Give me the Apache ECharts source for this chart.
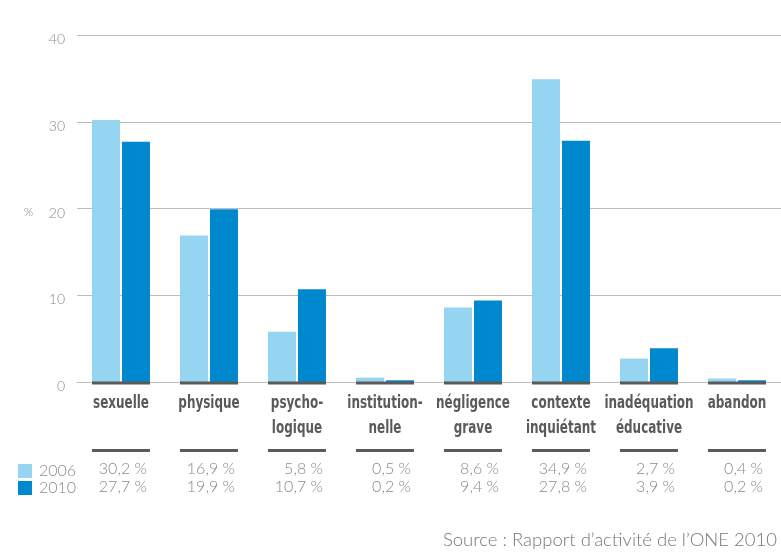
<!DOCTYPE html>
<html>
<head>
<meta charset="utf-8">
<script src="https://cdn.jsdelivr.net/npm/echarts@6/dist/echarts.min.js"></script>
<style>
  html, body { margin: 0; padding: 0; background: #fff; }
  #chart { width: 781px; height: 553px; }
</style>
</head>
<body>
<div id="chart"></div>
<script>
// données
const categories = ['sexuelle', 'physique', 'psycho-\nlogique', 'institution-\nnelle',
  'négligence\ngrave', 'contexte\ninquiétant', 'inadéquation\néducative', 'abandon'];
const years = ['2006', '2010'];
const values2006 = [30.2, 16.9, 5.8, 0.5, 8.6, 34.9, 2.7, 0.4];
const values2010 = [27.7, 19.9, 10.7, 0.2, 9.4, 27.8, 3.9, 0.2];
const yTicks = [0, 10, 20, 30, 40];

const light = 'Lato';
const grey = '#8a8a8a';
const dark = '#5a5a5a';
const fmt = v => v.toFixed(1).replace('.', ',') + ' %';

const chart = echarts.init(document.getElementById('chart'));

const option = {
  animation: false,
  grid: { left: 77, right: 0, top: 35, bottom: 171, containLabel: false },
  legend: {
    orient: 'vertical', left: 18, top: 463, padding: 0,
    itemWidth: 14, itemHeight: 14, itemGap: 1, icon: 'rect',
    data: years,
    textStyle: { fontFamily: light, fontWeight: 300, fontSize: 16, color: grey,
      lineHeight: 16, padding: [0, 0, 0, 2] }
  },
  xAxis: {
    type: 'category', data: categories,
    axisLine: { lineStyle: { color: '#bdbdbd', width: 1 } },
    axisTick: { show: false },
    // les libellés sont dessinés (condensés) par la série custom
    axisLabel: { show: false }
  },
  yAxis: {
    type: 'value', min: yTicks[0], max: yTicks[yTicks.length - 1], interval: 10,
    name: '%', nameLocation: 'middle', nameRotate: 0, nameGap: 44,
    nameTextStyle: { fontFamily: light, fontWeight: 300, fontSize: 12, color: grey,
      verticalAlign: 'top', lineHeight: 8 },
    axisLine: { show: false }, axisTick: { show: false },
    axisLabel: { margin: 12, fontFamily: light, fontWeight: 300, fontSize: 14, color: grey,
      verticalAlign: 'top', lineHeight: 9 },
    splitLine: { lineStyle: { color: '#bdbdbd', width: 1 } }
  },
  series: [
    { name: years[0], type: 'bar', data: values2006, barWidth: 28, barGap: '7%',
      itemStyle: { color: '#95d5f1' } },
    { name: years[1], type: 'bar', data: values2010, barWidth: 28,
      itemStyle: { color: '#0088cf' } },
    {
      // libellés, traits gris foncés et tableau des valeurs sous chaque catégorie
      type: 'custom', silent: true, clip: false, z: 5,
      data: categories.map((c, i) => [i, 0]),
      renderItem: function (params, api) {
        const i = api.value(0);
        const p = api.coord([i, 0]);
        const half = 29;
        return {
          type: 'group',
          children: [
            { type: 'rect', shape: { x: p[0] - half, y: p[1] - 0.5, width: half * 2, height: 3 },
              style: { fill: dark } },
            { type: 'text', x: p[0], y: p[1] + 9, scaleX: 0.74,
              style: { text: categories[i], align: 'center', verticalAlign: 'top',
                font: 'bold 18px "DejaVu Sans Condensed"', lineHeight: 25, fill: dark } },
            { type: 'rect', shape: { x: p[0] - half, y: p[1] + 67, width: half * 2, height: 3 },
              style: { fill: dark } },
            { type: 'text', x: p[0] + half - 3, y: p[1] + 87,
              style: { text: fmt(values2006[i]), align: 'right', verticalAlign: 'middle',
                font: '300 16px Lato', fill: grey } },
            { type: 'text', x: p[0] + half - 3, y: p[1] + 105,
              style: { text: fmt(values2010[i]), align: 'right', verticalAlign: 'middle',
                font: '300 16px Lato', fill: grey } }
          ]
        };
      }
    }
  ],
  graphic: [
    { type: 'text', right: 4, top: 531,
      style: { text: 'Source : Rapport d\u2019activité de l\u2019ONE 2010',
        font: '300 18.5px Lato', fill: '#777' } }
  ]
};

chart.setOption(option);
</script>
</body>
</html>
